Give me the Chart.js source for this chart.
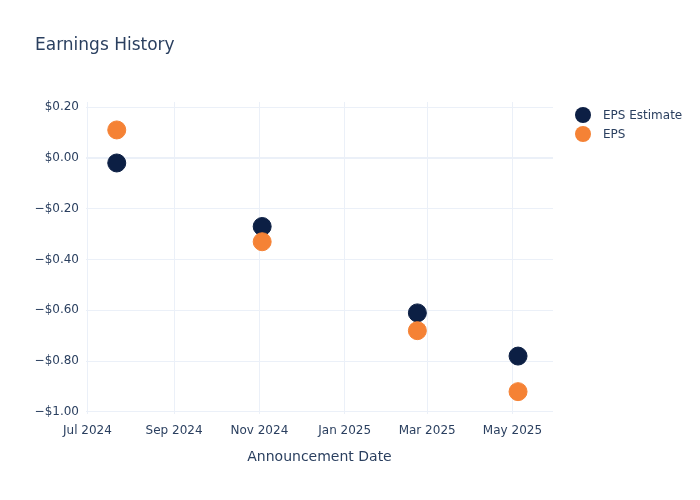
<!DOCTYPE html>
<html lang="en">
<head>
    <meta charset="UTF-8">
    <title>Earnings History</title>
    <script src="https://cdn.jsdelivr.net/npm/chart.js"></script>
    <style>
        html, body {
            margin: 0;
            padding: 0;
            background: #fff;
        }
        #wrap {
            width: 700px;
            height: 500px;
        }
    </style>
</head>
<body>
    <div id="wrap"><canvas id="eps"></canvas></div>

    <script>
        // data
        const dates = ['2024-07-22', '2024-11-03', '2025-02-22', '2025-05-05'];
        const epsEstimate = [-0.02, -0.27, -0.61, -0.78];
        const epsActual = [0.11, -0.33, -0.68, -0.92];

        const xTickDates = ['2024-07-01', '2024-09-01', '2024-11-01', '2025-01-01', '2025-03-01', '2025-05-01'];
        const xTickLabels = ['Jul 2024', 'Sep 2024', 'Nov 2024', 'Jan 2025', 'Mar 2025', 'May 2025'];
        const yTicks = [0.2, 0, -0.2, -0.4, -0.6, -0.8, -1.0];

        const DAY = 86400000;
        const toMs = s => Date.parse(s + 'T00:00:00Z');
        const txt = '#2a3f5f';
        const font = '"DejaVu Sans", sans-serif';

        function money(v) {
            let s = '$' + Math.abs(v).toFixed(2);
            return v < -1e-9 ? '\u2212' + s : s;
        }

        // title and legend drawn by hand, plotly style
        const decor = {
            id: 'decor',
            afterDraw(chart) {
                const c = chart.ctx;
                c.save();
                c.fillStyle = txt;
                c.font = '17px ' + font;
                c.textBaseline = 'middle';
                c.fillText('Earnings History', 35, 46);

                const items = [['EPS Estimate', '#0c1f44'], ['EPS', '#f58235']];
                c.font = '12px ' + font;
                items.forEach((it, i) => {
                    let y = 115 + i * 19;
                    c.beginPath();
                    c.arc(583, y, 8, 0, Math.PI * 2);
                    c.fillStyle = it[1];
                    c.fill();
                    c.fillStyle = txt;
                    c.fillText(it[0], 603, y + 1);
                });
                c.restore();
            }
        };

        const xMin = toMs('2024-07-01') - 1 * DAY;
        const xMax = toMs('2024-07-01') + 333 * DAY;

        new Chart(document.getElementById('eps'), {
            type: 'scatter',
            data: {
                datasets: [
                    {
                        label: 'EPS Estimate',
                        data: dates.map((d, i) => ({ x: toMs(d), y: epsEstimate[i] })),
                        backgroundColor: '#0c1f44',
                        borderColor: '#0c1f44',
                        pointRadius: 9,
                        pointHoverRadius: 9,
                        order: 1
                    },
                    {
                        label: 'EPS',
                        data: dates.map((d, i) => ({ x: toMs(d), y: epsActual[i] })),
                        backgroundColor: '#f58235',
                        borderColor: '#f58235',
                        pointRadius: 9,
                        pointHoverRadius: 9,
                        order: 0
                    }
                ]
            },
            options: {
                responsive: true,
                maintainAspectRatio: false,
                animation: false,
                clip: false,
                layout: { padding: { left: 0, right: 147, top: 102, bottom: 30 } },
                plugins: {
                    legend: { display: false },
                    title: { display: false },
                    tooltip: { enabled: false }
                },
                scales: {
                    x: {
                        type: 'linear',
                        min: xMin,
                        max: xMax,
                        afterBuildTicks: s => { s.ticks = xTickDates.map(d => ({ value: toMs(d) })); },
                        afterFit: s => { s.height = 56; },
                        ticks: {
                            color: txt,
                            font: { family: font, size: 12 },
                            maxRotation: 0,
                            padding: 10,
                            callback: v => xTickLabels[xTickDates.map(toMs).indexOf(v)]
                        },
                        grid: { color: '#ebf0f8', lineWidth: 1, drawTicks: false },
                        border: { display: false },
                        title: {
                            display: true,
                            text: 'Announcement Date',
                            color: txt,
                            font: { family: font, size: 14 },
                            padding: { top: 14 }
                        }
                    },
                    y: {
                        min: -1.008,
                        max: 0.22,
                        afterBuildTicks: s => { s.ticks = yTicks.map(v => ({ value: v })); },
                        afterFit: s => { s.width = 86; },
                        ticks: {
                            color: txt,
                            font: { family: font, size: 12 },
                            padding: 7,
                            callback: v => money(v)
                        },
                        grid: {
                            color: '#ebf0f8',
                            lineWidth: ctx => (ctx.tick && Math.abs(ctx.tick.value) < 1e-9) ? 2 : 1,
                            drawTicks: false
                        },
                        border: { display: false }
                    }
                }
            },
            plugins: [decor]
        });
    </script>
</body>
</html>
